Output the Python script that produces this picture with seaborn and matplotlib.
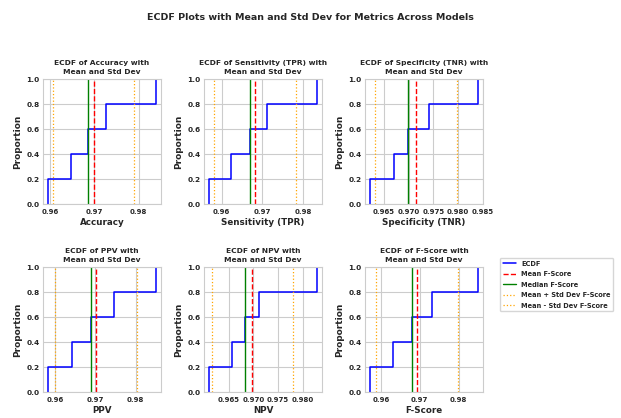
# ECDF of each evaluation metric over the five models, with mean / median / +-1 std markers

import numpy as np
import pandas as pd
import seaborn as sns
from matplotlib import pyplot as plt

# Metric values per model
accuracy = [0.9596, 0.9648, 0.9685, 0.9727, 0.9838]
sensitivity = [0.9570, 0.9623, 0.9670, 0.9712, 0.9833]
specificity = [0.9623, 0.9671, 0.9699, 0.9742, 0.9839]
ppv = [0.9583, 0.9641, 0.9689, 0.9747, 0.9850]
npv = [0.9611, 0.9656, 0.9684, 0.9712, 0.9828]
f_score = [0.9573, 0.9631, 0.9681, 0.9732, 0.9849]

metric_names = ['Accuracy', 'Sensitivity (TPR)', 'Specificity (TNR)', 'PPV', 'NPV', 'F-Score']
x_ticks = [
    [0.96, 0.97, 0.98],
    [0.96, 0.97, 0.98],
    [0.965, 0.970, 0.975, 0.980, 0.985],
    [0.96, 0.97, 0.98],
    [0.965, 0.970, 0.975, 0.980],
    [0.96, 0.97, 0.98],
]

metrics_df = pd.DataFrame(dict(zip(metric_names, [accuracy, sensitivity, specificity, ppv, npv, f_score])))

sns.set_theme(style='whitegrid')
plt.rcParams['font.family'] = ['DejaVu Sans']
plt.rcParams['font.weight'] = 'bold'
plt.rcParams['axes.titleweight'] = 'bold'
plt.rcParams['axes.labelweight'] = 'bold'
plt.rcParams['axes.linewidth'] = 0.8
plt.rcParams['grid.linewidth'] = 0.8

fig, axes = plt.subplots(2, 3, figsize=(6.21, 4.18), dpi=100)
fig.subplots_adjust(left=0.0692, right=0.7778, top=0.811, bottom=0.0622, wspace=0.365, hspace=0.504)

for ax, name, ticks in zip(axes.flat, metric_names, x_ticks):
    vals = metrics_df[name]
    mean_val = vals.mean()
    std_val = vals.std()
    median_val = vals.median()

    sns.ecdfplot(x=vals, ax=ax, color='blue', linewidth=1.1, label='ECDF')
    ax.axvline(mean_val, color='red', linestyle='--', linewidth=1.0, label=f'Mean {name}')
    ax.axvline(median_val, color='green', linestyle='-', linewidth=1.0, label=f'Median {name}')
    ax.axvline(mean_val + std_val, color='orange', linestyle=':', linewidth=0.9, label=f'Mean + Std Dev {name}')
    ax.axvline(mean_val - std_val, color='orange', linestyle=':', linewidth=0.9, label=f'Mean - Std Dev {name}')

    ax.set_xticks(ticks)
    ax.set_yticks([0.0, 0.2, 0.4, 0.6, 0.8, 1.0])
    ax.tick_params(axis='x', labelsize=5, pad=3.5, length=0)
    ax.tick_params(axis='y', labelsize=5.3, pad=2.5, length=0)
    ax.set_title(f'ECDF of {name} with\nMean and Std Dev', fontsize=5.4, pad=3.5, linespacing=1.7)
    ax.set_xlabel(name, fontsize=6.3, labelpad=2)
    ax.set_ylabel('Proportion', fontsize=6.5, labelpad=3)

axes[1, 2].legend(loc='upper left', bbox_to_anchor=(1.143, 1.072), borderaxespad=0,
                  fontsize=4.8, labelspacing=0.68)

fig.suptitle('ECDF Plots with Mean and Std Dev for Metrics Across Models', fontsize=6.8, fontweight='bold', y=0.959, va='center')
fig.savefig('out.png', dpi=100)
